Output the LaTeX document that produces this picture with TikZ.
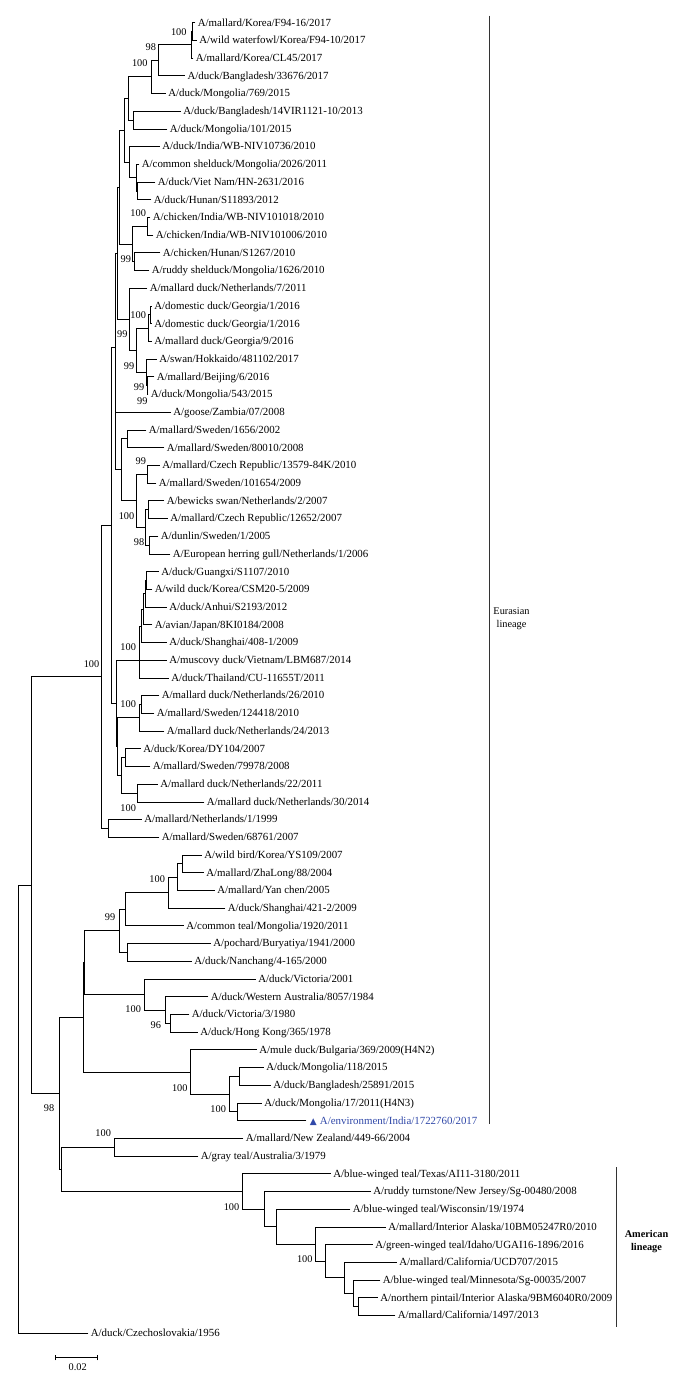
\documentclass[tikz,border=0pt]{standalone}
\usepackage{fontspec}
\setmainfont{Liberation Serif}
\newfontfamily\symfont{DejaVu Sans}
\definecolor{envblue}{RGB}{48,72,168}
\tikzset{
  branch/.style={line width=0.9pt, line cap=rect},
  leaf/.style={anchor=west, inner xsep=2.6pt, inner ysep=0pt, text height=0.66em, text depth=0pt, font=\fontsize{10.9}{12}\selectfont},
  bs/.style={anchor=east, inner xsep=0.6pt, inner ysep=0pt, text height=0.66em, text depth=0pt, font=\fontsize{10.3}{12}\selectfont},
  clade/.style={align=center, font=\fontsize{10.3}{13}\selectfont},
  bracket/.style={line width=0.8pt, black!80}
}
\newcommand\leaf[4]{\node[leaf] (#1) at (#2,#3) {#4};}
\newcommand\inn[3]{\coordinate (#1) at (#2,#3);}
\newcommand\boot[4]{\node[bs] (#1) at (#2,#3) {#4};}
\begin{document}
\begin{tikzpicture}[x=1pt,y=-1pt]
\useasboundingbox (0,0) rectangle (680,1373);
% leaves
\leaf{l1}{195}{22.70}{A/mallard/Korea/F94-16/2017}
\leaf{l2}{196.5}{40.41}{A/wild waterfowl/Korea/F94-10/2017}
\leaf{l3}{193}{58.12}{A/mallard/Korea/CL45/2017}
\leaf{l4}{184.7}{75.83}{A/duck/Bangladesh/33676/2017}
\leaf{l5}{165.5}{93.54}{A/duck/Mongolia/769/2015}
\leaf{l6}{180.5}{111.25}{A/duck/Bangladesh/14VIR1121-10/2013}
\leaf{l7}{167}{128.96}{A/duck/Mongolia/101/2015}
\leaf{l8}{159.5}{146.67}{A/duck/India/WB-NIV10736/2010}
\leaf{l9}{139}{164.38}{A/common shelduck/Mongolia/2026/2011}
\leaf{l10}{155}{182.09}{A/duck/Viet Nam/HN-2631/2016}
\leaf{l11}{151}{199.80}{A/duck/Hunan/S11893/2012}
\leaf{l12}{150}{217.51}{A/chicken/India/WB-NIV101018/2010}
\leaf{l13}{153}{235.22}{A/chicken/India/WB-NIV101006/2010}
\leaf{l14}{160}{252.93}{A/chicken/Hunan/S1267/2010}
\leaf{l15}{149}{270.64}{A/ruddy shelduck/Mongolia/1626/2010}
\leaf{l16}{147}{288.35}{A/mallard duck/Netherlands/7/2011}
\leaf{l17}{151.5}{306.06}{A/domestic duck/Georgia/1/2016}
\leaf{l18}{151.5}{323.77}{A/domestic duck/Georgia/1/2016}
\leaf{l19}{151.5}{341.48}{A/mallard duck/Georgia/9/2016}
\leaf{l20}{156.5}{359.19}{A/swan/Hokkaido/481102/2017}
\leaf{l21}{154}{376.90}{A/mallard/Beijing/6/2016}
\leaf{l22}{148}{394.61}{A/duck/Mongolia/543/2015}
\leaf{l23}{170.5}{412.32}{A/goose/Zambia/07/2008}
\leaf{l24}{146}{430.03}{A/mallard/Sweden/1656/2002}
\leaf{l25}{164}{447.74}{A/mallard/Sweden/80010/2008}
\leaf{l26}{159.5}{465.45}{A/mallard/Czech Republic/13579-84K/2010}
\leaf{l27}{156}{483.16}{A/mallard/Sweden/101654/2009}
\leaf{l28}{164}{500.87}{A/bewicks swan/Netherlands/2/2007}
\leaf{l29}{167.5}{518.58}{A/mallard/Czech Republic/12652/2007}
\leaf{l30}{158}{536.29}{A/dunlin/Sweden/1/2005}
\leaf{l31}{170}{554.00}{A/European herring gull/Netherlands/1/2006}
\leaf{l32}{158.5}{571.71}{A/duck/Guangxi/S1107/2010}
\leaf{l33}{152}{589.42}{A/wild duck/Korea/CSM20-5/2009}
\leaf{l34}{166.5}{607.13}{A/duck/Anhui/S2193/2012}
\leaf{l35}{152}{624.84}{A/avian/Japan/8KI0184/2008}
\leaf{l36}{166.5}{642.55}{A/duck/Shanghai/408-1/2009}
\leaf{l37}{166.5}{660.26}{A/muscovy duck/Vietnam/LBM687/2014}
\leaf{l38}{168.5}{677.97}{A/duck/Thailand/CU-11655T/2011}
\leaf{l39}{159}{695.68}{A/mallard duck/Netherlands/26/2010}
\leaf{l40}{154}{713.39}{A/mallard/Sweden/124418/2010}
\leaf{l41}{164}{731.10}{A/mallard duck/Netherlands/24/2013}
\leaf{l42}{140.5}{748.81}{A/duck/Korea/DY104/2007}
\leaf{l43}{150}{766.52}{A/mallard/Sweden/79978/2008}
\leaf{l44}{157.5}{784.23}{A/mallard duck/Netherlands/22/2011}
\leaf{l45}{204}{801.94}{A/mallard duck/Netherlands/30/2014}
\leaf{l46}{141.5}{819.65}{A/mallard/Netherlands/1/1999}
\leaf{l47}{159}{837.36}{A/mallard/Sweden/68761/2007}
\leaf{l48}{201.5}{855.07}{A/wild bird/Korea/YS109/2007}
\leaf{l49}{203.5}{872.78}{A/mallard/ZhaLong/88/2004}
\leaf{l50}{214.5}{890.49}{A/mallard/Yan chen/2005}
\leaf{l51}{225}{908.20}{A/duck/Shanghai/421-2/2009}
\leaf{l52}{183.5}{925.91}{A/common teal/Mongolia/1920/2011}
\leaf{l53}{210.5}{943.62}{A/pochard/Buryatiya/1941/2000}
\leaf{l54}{191.5}{961.33}{A/duck/Nanchang/4-165/2000}
\leaf{l55}{255.5}{979.04}{A/duck/Victoria/2001}
\leaf{l56}{208}{996.75}{A/duck/Western Australia/8057/1984}
\leaf{l57}{189}{1014.46}{A/duck/Victoria/3/1980}
\leaf{l58}{197.5}{1032.17}{A/duck/Hong Kong/365/1978}
\leaf{l59}{256.5}{1049.88}{A/mule duck/Bulgaria/369/2009(H4N2)}
\leaf{l60}{263.5}{1067.59}{A/duck/Mongolia/118/2015}
\leaf{l61}{270.5}{1085.30}{A/duck/Bangladesh/25891/2015}
\leaf{l62}{261.5}{1103.01}{A/duck/Mongolia/17/2011(H4N3)}
\node[leaf, text=envblue, inner xsep=3.6pt] (l63) at (306,1120.72) {{\symfont\fontsize{9}{10}\selectfont▲}\hspace{3.2pt}A/environment/India/1722760/2017};
\leaf{l64}{243}{1138.43}{A/mallard/New Zealand/449-66/2004}
\leaf{l65}{198}{1156.14}{A/gray teal/Australia/3/1979}
\leaf{l66}{330.5}{1173.85}{A/blue-winged teal/Texas/AI11-3180/2011}
\leaf{l67}{370.5}{1191.56}{A/ruddy turnstone/New Jersey/Sg-00480/2008}
\leaf{l68}{350}{1209.27}{A/blue-winged teal/Wisconsin/19/1974}
\leaf{l69}{385.5}{1226.98}{A/mallard/Interior Alaska/10BM05247R0/2010}
\leaf{l70}{372.5}{1244.69}{A/green-winged teal/Idaho/UGAI16-1896/2016}
\leaf{l71}{396.5}{1262.40}{A/mallard/California/UCD707/2015}
\leaf{l72}{380}{1280.11}{A/blue-winged teal/Minnesota/Sg-00035/2007}
\leaf{l73}{377.5}{1297.82}{A/northern pintail/Interior Alaska/9BM6040R0/2009}
\leaf{l74}{395}{1315.53}{A/mallard/California/1497/2013}
\leaf{l75}{88}{1333.24}{A/duck/Czechoslovakia/1956}
% internal nodes
\inn{N12}{192.3}{31.56}
\inn{N123}{191}{44.84}
\inn{N1234}{158.3}{60.34}
\inn{N15}{151}{76.94}
\inn{N67}{133.3}{120.1}
\inn{NA}{128.7}{98.5}
\inn{N1011}{137.7}{190.95}
\inn{N911}{136.7}{177.66}
\inn{NB}{129.3}{162.17}
\inn{NAB}{124}{130.3}
\inn{N1213}{147.7}{226.37}
\inn{N1415}{134.3}{261.79}
\inn{N1215}{132.7}{244.08}
\inn{P1}{119}{187.2}
\inn{N1718}{150.5}{314.9}
\inn{N1719}{148.3}{328.2}
\inn{N2122}{147.3}{385.76}
\inn{N2022}{146.7}{372.5}
\inn{N1722}{136.7}{350.35}
\inn{N1622}{129.3}{319.35}
\inn{P2}{117.2}{253.3}
\inn{N2425}{127.7}{438.9}
\inn{N2627}{147.7}{474.3}
\inn{N2829}{148.3}{509.7}
\inn{N3031}{149.3}{545.15}
\inn{N2831}{145.7}{527.4}
\inn{N2631}{136}{500.9}
\inn{N2431}{121.7}{469.9}
\inn{U2}{115.6}{441.1}
\inn{Up}{115}{347.2}
\inn{N3233}{146.7}{580.57}
\inn{N3234}{145}{593.85}
\inn{N3235}{143.3}{609.35}
\inn{Xc}{141.7}{625.95}
\inn{N3238}{139.3}{660.26}
\inn{N3940}{141.7}{704.5}
\inn{N3941}{139.3}{717.8}
\inn{N4243}{125}{757.67}
\inn{N4445}{137.3}{793.09}
\inn{N4245}{121.7}{775.38}
\inn{Mo}{117.3}{746.6}
\inn{Lo}{116}{703.4}
\inn{Big}{111.7}{525.3}
\inn{N4647}{108.3}{828.5}
\inn{ER}{101.7}{676.9}
\inn{N4849}{182.7}{863.9}
\inn{N4850}{177.3}{877.2}
\inn{N4851}{168.3}{892.7}
\inn{N4852}{125}{909.3}
\inn{N5354}{127.3}{952.5}
\inn{N4854}{119.3}{930.9}
\inn{N5758}{170.3}{1023.3}
\inn{N5658}{165.3}{1010.0}
\inn{N5558}{144}{994.5}
\inn{S1}{84}{962.7}
\inn{N6061}{239.3}{1076.45}
\inn{N6263}{237.3}{1111.87}
\inn{N6063}{229.3}{1094.2}
\inn{N5963}{190}{1072.0}
\inn{Sn}{83.3}{1017.4}
\inn{NZ}{114.3}{1147.3}
\inn{N7374}{358.3}{1306.7}
\inn{N7274}{353.3}{1293.4}
\inn{N7174}{344.3}{1277.9}
\inn{N7074}{325.3}{1261.3}
\inn{N6974}{315.3}{1244.1}
\inn{N6874}{276.3}{1226.7}
\inn{N6774}{264.3}{1209.1}
\inn{NAm}{242.3}{1191.5}
\inn{Qn}{61}{1169.4}
\inn{R3}{59.3}{1093.4}
\inn{R2}{31}{885.2}
\inn{Root}{18.3}{1109.2}
% branches
\foreach \p/\c in {
 N12/l1.west, N12/l2.west, N123/N12, N123/l3.west, N1234/N123, N1234/l4.west,
 N15/N1234, N15/l5.west, N67/l6.west, N67/l7.west, NA/N15, NA/N67,
 N1011/l10.west, N1011/l11.west, N911/l9.west, N911/N1011, NB/l8.west, NB/N911,
 NAB/NA, NAB/NB, N1213/l12.west, N1213/l13.west, N1415/l14.west, N1415/l15.west,
 N1215/N1213, N1215/N1415, P1/NAB, P1/N1215,
 N1718/l17.west, N1718/l18.west, N1719/N1718, N1719/l19.west,
 N2122/l21.west, N2122/l22.west, N2022/l20.west, N2022/N2122,
 N1722/N1719, N1722/N2022, N1622/l16.west, N1622/N1722, P2/P1, P2/N1622,
 N2425/l24.west, N2425/l25.west, N2627/l26.west, N2627/l27.west,
 N2829/l28.west, N2829/l29.west, N3031/l30.west, N3031/l31.west,
 N2831/N2829, N2831/N3031, N2631/N2627, N2631/N2831, N2431/N2425, N2431/N2631,
 U2/l23.west, U2/N2431, Up/P2, Up/U2,
 N3233/l32.west, N3233/l33.west, N3234/N3233, N3234/l34.west, N3235/N3234, N3235/l35.west,
 Xc/N3235, Xc/l36.west, N3238/Xc, N3238/l37.west, N3238/l38.west,
 N3940/l39.west, N3940/l40.west, N3941/N3940, N3941/l41.west,
 N4243/l42.west, N4243/l43.west, N4445/l44.west, N4445/l45.west,
 N4245/N4243, N4245/N4445, Mo/N3941, Mo/N4245, Lo/N3238, Lo/Mo,
 Big/Up, Big/Lo, N4647/l46.west, N4647/l47.west, ER/Big, ER/N4647,
 N4849/l48.west, N4849/l49.west, N4850/N4849, N4850/l50.west, N4851/N4850, N4851/l51.west,
 N4852/N4851, N4852/l52.west, N5354/l53.west, N5354/l54.west, N4854/N4852, N4854/N5354,
 N5758/l57.west, N5758/l58.west, N5658/l56.west, N5658/N5758, N5558/l55.west, N5558/N5658,
 S1/N4854, S1/N5558,
 N6061/l60.west, N6061/l61.west, N6263/l62.west, N6263/l63.west, N6063/N6061, N6063/N6263,
 N5963/l59.west, N5963/N6063, Sn/S1, Sn/N5963,
 NZ/l64.west, NZ/l65.west,
 N7374/l73.west, N7374/l74.west, N7274/l72.west, N7274/N7374, N7174/l71.west, N7174/N7274,
 N7074/l70.west, N7074/N7174, N6974/l69.west, N6974/N7074, N6874/l68.west, N6874/N6974,
 N6774/l67.west, N6774/N6874, NAm/l66.west, NAm/N6774,
 Qn/NZ, Qn/NAm, R3/Sn, R3/Qn, R2/ER, R2/R3, Root/R2, Root/l75.west}
 \draw[branch] (\p) |- (\c);
% bootstrap values
\boot{b1}{187.3}{31.7}{100}
\boot{b2}{156.7}{47.3}{98}
\boot{b3}{148.3}{63.3}{100}
\boot{b4}{146.7}{213.3}{100}
\boot{b5}{131.7}{259.3}{99}
\boot{b6}{146.7}{315}{100}
\boot{b7}{128.3}{334.3}{99}
\boot{b8}{135}{365.7}{99}
\boot{b9}{145}{386.7}{99}
\boot{b10}{148.3}{400.7}{99}
\boot{b11}{146.7}{460.7}{99}
\boot{b12}{135}{516}{100}
\boot{b13}{145}{542.3}{98}
\boot{b14}{136.7}{646.7}{100}
\boot{b15}{100}{664}{100}
\boot{b16}{136.7}{704}{100}
\boot{b17}{136.7}{808.3}{100}
\boot{b18}{165.7}{879}{100}
\boot{b19}{116}{916.7}{99}
\boot{b20}{141.7}{1009.3}{100}
\boot{b21}{161.7}{1025}{96}
\boot{b22}{188.3}{1087.7}{100}
\boot{b23}{55}{1107.7}{98}
\boot{b24}{226.7}{1109.3}{100}
\boot{b25}{111.7}{1133.3}{100}
\boot{b26}{240}{1206.7}{100}
\boot{b27}{313.3}{1259.3}{100}
% lineage brackets
\coordinate (eurT) at (489,15.5);
\coordinate (eurB) at (489,1123.5);
\draw[bracket] (eurT) -- (eurB);
\node[clade] (eur) at (511.5,619) {Eurasian\\lineage};
\coordinate (amT) at (616,1167.3);
\coordinate (amB) at (616,1327.3);
\draw[bracket] (amT) -- (amB);
\node[clade, font=\fontsize{10.3}{13}\selectfont\bfseries] (am) at (646.5,1242) {American\\lineage};
% scale bar
\coordinate (sbL) at (55,1357.7);
\coordinate (sbR) at (97.3,1357.7);
\draw[line width=0.8pt] (sbL) -- (sbR);
\draw[line width=0.8pt] ([yshift=-2.6pt]sbL) -- ([yshift=2.6pt]sbL);
\draw[line width=0.8pt] ([yshift=-2.6pt]sbR) -- ([yshift=2.6pt]sbR);
\node[font=\fontsize{10.3}{12}\selectfont, inner sep=0pt] (sbt) at (77.7,1367) {0.02};
\end{tikzpicture}
\end{document}
